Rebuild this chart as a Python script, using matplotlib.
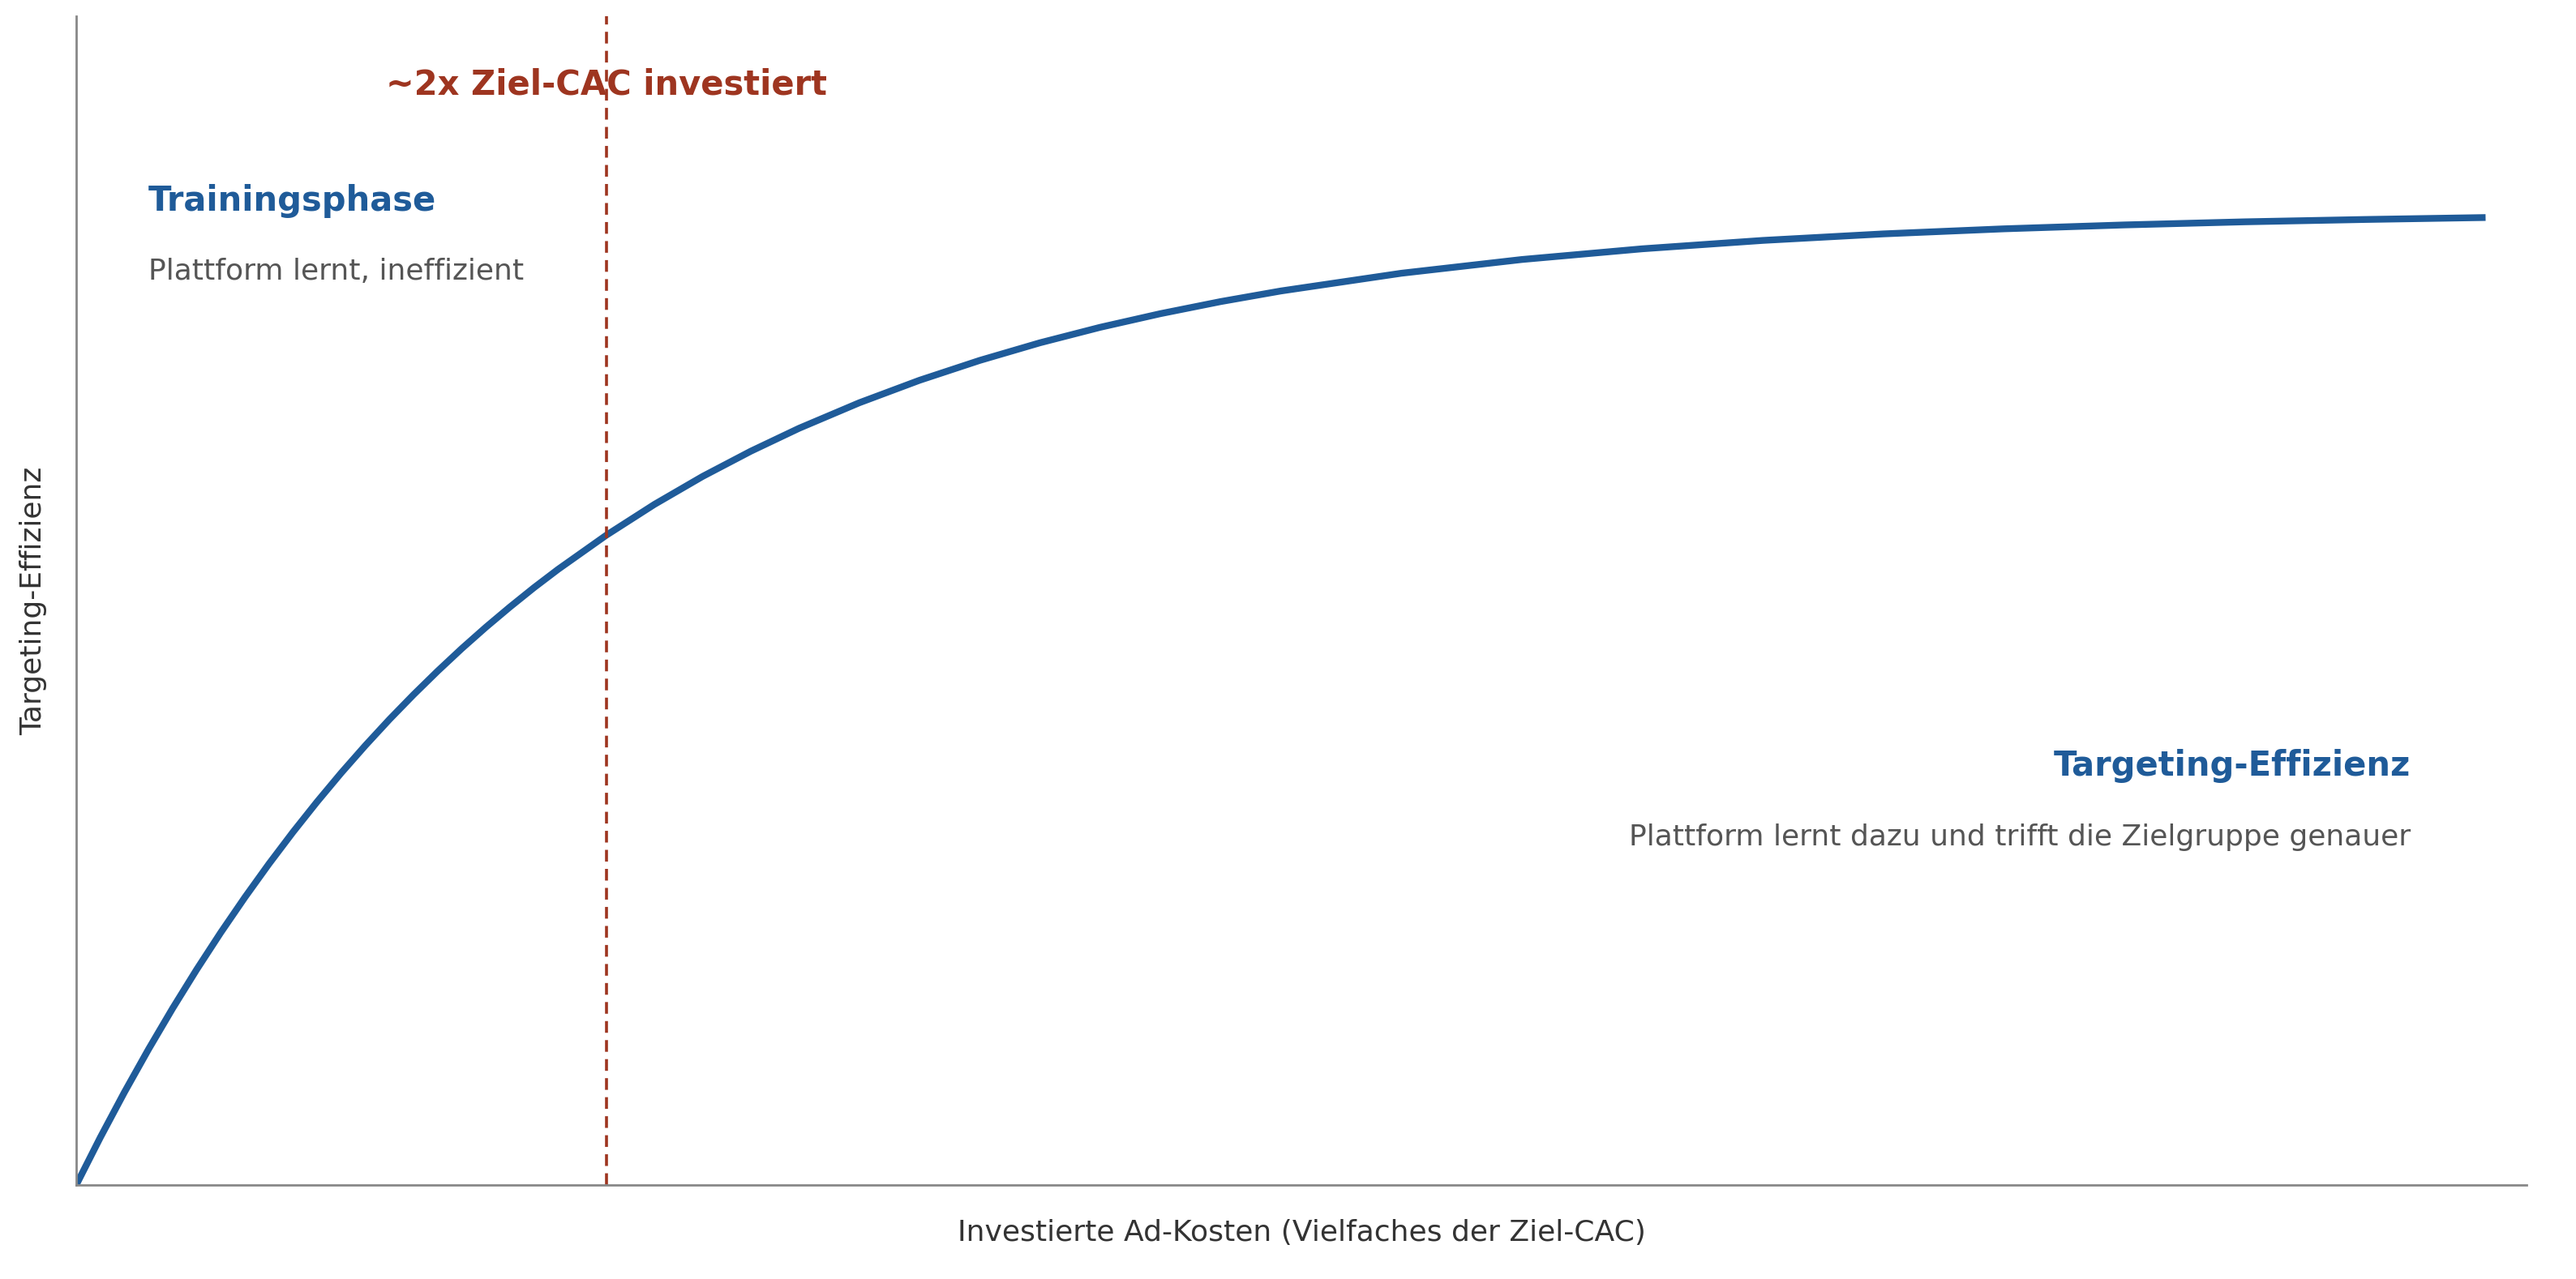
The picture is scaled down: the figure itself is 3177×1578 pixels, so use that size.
import matplotlib
matplotlib.use("Agg")
import matplotlib.pyplot as plt

# Lernkurve
spend = [0, 0.1, 0.2, 0.3, 0.4, 0.5, 0.6, 0.7, 0.8, 0.9, 1.0, 1.1, 1.2, 1.3,
         1.4, 1.5, 1.6, 1.7, 1.8, 1.9, 2.0, 2.2, 2.4, 2.6, 2.8, 3.0, 3.25,
         3.5, 3.75, 4.0, 4.25, 4.5, 4.75, 5.0, 5.5, 6.0, 6.5, 7.0, 7.5, 8.0,
         8.5, 9.0, 9.5, 10.0]
efficiency = [0, 0.0488, 0.0952, 0.1393, 0.1813, 0.2212, 0.2592, 0.2953,
              0.3297, 0.3624, 0.3935, 0.4231, 0.4512, 0.4780, 0.5034, 0.5276,
              0.5507, 0.5726, 0.5934, 0.6133, 0.6321, 0.6671, 0.6988, 0.7275,
              0.7534, 0.7769, 0.8031, 0.8262, 0.8466, 0.8647, 0.8806, 0.8946,
              0.9070, 0.9179, 0.9361, 0.9502, 0.9612, 0.9698, 0.9765, 0.9817,
              0.9857, 0.9889, 0.9913, 0.9933]
marker_x = 2.2

BLUE = "#1f5b99"
RED = "#9e3520"
GREY = "#555555"

fig = plt.figure(figsize=(3177 / 200, 1578 / 200), dpi=200)
ax = fig.add_axes([94 / 3177, 1 - 1462 / 1578, (3116 - 94) / 3177, (1462 - 20) / 1578])

ax.plot(spend, efficiency, color=BLUE, linewidth=3.0, solid_capstyle="butt",
        solid_joinstyle="round")
ax.axvline(marker_x, color=RED, linestyle="--", linewidth=1.3, dashes=(4, 2.5))

ax.text(marker_x, 1.13, "~2x Ziel-CAC investiert", color=RED, fontsize=15,
        fontweight="bold", ha="center", va="center")
ax.text(0.3, 1.01, "Trainingsphase", color=BLUE, fontsize=15,
        fontweight="bold", ha="left", va="center")
ax.text(0.3, 0.938, "Plattform lernt, ineffizient", color=GREY, fontsize=13,
        ha="left", va="center")
ax.text(9.69, 0.43, "Targeting-Effizienz", color=BLUE, fontsize=15,
        fontweight="bold", ha="right", va="center")
ax.text(9.69, 0.357, "Plattform lernt dazu und trifft die Zielgruppe genauer",
        color=GREY, fontsize=13, ha="right", va="center")

ax.set_xlim(0, 10.17)
ax.set_ylim(0, 1.2)
ax.set_xticks([])
ax.set_yticks([])
for side in ["top", "right"]:
    ax.spines[side].set_visible(False)
for side in ["left", "bottom"]:
    ax.spines[side].set_color("#888888")
    ax.spines[side].set_linewidth(1.0)

ax.set_xlabel("Investierte Ad-Kosten (Vielfaches der Ziel-CAC)", fontsize=13,
              color="#333333", labelpad=15)
ax.set_ylabel("Targeting-Effizienz", fontsize=13, color="#333333", labelpad=13)

fig.savefig("out.png", dpi=200)
